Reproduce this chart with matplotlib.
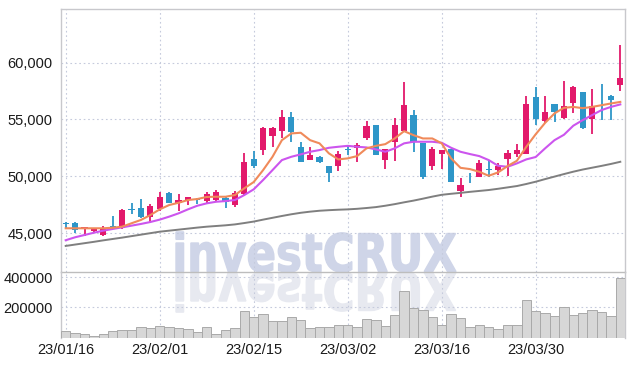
import numpy as np
import matplotlib
matplotlib.use("Agg")
import matplotlib.pyplot as plt
from matplotlib.textpath import TextPath
from matplotlib.patches import PathPatch
from matplotlib.font_manager import FontProperties
from matplotlib.transforms import Affine2D

plt.rcParams['font.family'] = ['Liberation Sans Narrow', 'Liberation Sans', 'DejaVu Sans']

# daily candles (index 0 = 23/01/16)
opens = [45850, 45930, 45400, 45230, 44880, 45640, 45440, 47100, 47190, 46400,
         47100, 48560, 47630, 47920, 47950, 47860, 47920, 48120, 47480, 48420,
         51490, 52330, 53560, 54000, 55180, 52570, 51430, 51720, 50900, 50880,
         52330, 52510, 53330, 54500, 51460, 52980, 54000, 55380, 52900, 50900,
         51930, 52370, 48710, 49500, 49970, 50600, 50550, 51490, 51960, 51980,
         56960, 54850, 56320, 55090, 56460, 57370, 55000, 56700, 57040, 58010]
highs = [46000, 45950, 45580, 45460, 45640, 46520, 47100, 47680, 47980, 47570,
         48600, 48600, 48420, 48210, 48120, 48650, 48800, 48150, 48740, 52070,
         52220, 54300, 54300, 55820, 55610, 53040, 52570, 51800, 50950, 52250,
         52660, 52950, 54880, 54500, 52400, 55090, 58300, 55820, 52950, 52600,
         52350, 52400, 49820, 50260, 51430, 51430, 51140, 52310, 52830, 57070,
         57810, 57070, 56350, 58390, 57950, 57400, 57660, 58070, 57190, 61580]
lows = [45450, 45050, 44800, 45000, 44760, 45400, 45400, 46690, 46350, 45930,
        46980, 47650, 46980, 47460, 47540, 47630, 47860, 47200, 47280, 48400,
        50700, 51840, 52600, 53330, 53030, 51250, 51400, 51200, 49470, 50470,
        51870, 51280, 53180, 51850, 50610, 51340, 53950, 52160, 49740, 50550,
        50610, 49500, 48210, 49390, 49910, 49970, 50110, 50030, 51720, 51950,
        54500, 54650, 54740, 55050, 55530, 54200, 53680, 54940, 54940, 57480]
closes = [45800, 45290, 45550, 45350, 45380, 45450, 47040, 47050, 46400, 47400,
          48200, 47690, 47920, 48180, 47920, 48450, 48620, 47770, 48560, 51250,
          50930, 54240, 54240, 55180, 53910, 51280, 51870, 51280, 50260, 51960,
          52300, 52750, 54410, 51870, 52370, 54500, 56250, 53030, 49910, 52370,
          52310, 49530, 49240, 49470, 51190, 50550, 50900, 52070, 52310, 56340,
          55030, 55610, 55670, 56170, 57830, 54260, 56170, 56670, 56750, 58650]
volumes = [40000, 33000, 20000, 13000, 26000, 42000, 53000, 48000, 73000, 62000,
           79000, 73000, 62000, 55000, 35000, 73000, 26000, 53000, 60000, 179000,
           139000, 159000, 108000, 108000, 139000, 119000, 66000, 73000, 73000, 86000,
           80000, 67000, 120000, 114000, 74000, 147000, 312000, 193000, 180000, 134000,
           81000, 154000, 127000, 67000, 81000, 67000, 54000, 81000, 81000, 246000,
           173000, 160000, 140000, 200000, 147000, 160000, 180000, 167000, 140000, 392000]

# moving averages
ma_short = [45440, 45440, 45440, 45440, 45440, 45490, 45580, 45880, 46170, 46600,
            47100, 47480, 47680, 47920, 48010, 48190, 48210, 48210, 48360, 48950,
            49500, 50550, 51720, 53180, 53770, 53830, 53180, 52900, 52020, 51490,
            51580, 51780, 52460, 52680, 52830, 53330, 53970, 53620, 53330, 53330,
            52900, 51580, 50750, 50640, 50400, 50050, 50350, 50900, 51370, 52600,
            53700, 54700, 55530, 56020, 56100, 55990, 56100, 56250, 56400, 56540]
ma_mid = [44390, 44650, 44850, 45050, 45230, 45380, 45520, 45670, 45820, 45990,
          46200, 46460, 46750, 47100, 47420, 47630, 47770, 47830, 47920, 48360,
          48860, 49680, 50550, 51430, 51720, 51930, 52160, 52310, 52510, 52600,
          52680, 52600, 52540, 52370, 52160, 52460, 52900, 53040, 53040, 53040,
          52950, 52510, 52160, 51960, 51780, 51430, 50930, 50840, 51140, 51490,
          51700, 52460, 53180, 53650, 54450, 54940, 55380, 55820, 56100, 56320]
ma_long = [43890, 44010, 44130, 44250, 44380, 44500, 44620, 44750, 44880, 45010,
           45140, 45230, 45320, 45410, 45500, 45580, 45640, 45700, 45780, 45900,
           46030, 46200, 46360, 46520, 46670, 46800, 46900, 46980, 47030, 47070,
           47100, 47150, 47220, 47300, 47420, 47560, 47720, 47870, 48040, 48220,
           48380, 48470, 48550, 48640, 48720, 48800, 48910, 49030, 49150, 49330,
           49530, 49760, 49980, 50200, 50410, 50600, 50760, 50920, 51090, 51280]

tick_idx = [0, 10, 20, 30, 40, 50]
tick_labels = ['23/01/16', '23/02/01', '23/02/15', '23/03/02', '23/03/16', '23/03/30']
price_ticks = [45000, 50000, 55000, 60000]
vol_ticks = [200000, 400000]

UP = '#e2196b'
DOWN = '#2e96c8'
GRID = '#c5cadc'
SPINE = '#c8c8cc'

fig = plt.figure(figsize=(6.35, 3.66), dpi=100, facecolor='white')
ax = fig.add_axes([61/635, 1-272/366, 564/635, 263/366])
axv = fig.add_axes([61/635, 1-337.5/366, 564/635, 65.5/366], sharex=ax)
for a in (ax, axv):
    a.set_facecolor('none')

# watermark with reflection, behind the axes
fp = FontProperties(family='DejaVu Sans', weight='bold')
tp = TextPath((0, 0), 'investCRUX', size=100, prop=fp)
cap = TextPath((0, 0), 'X', size=100, prop=fp).get_extents().height
bb = tp.get_extents()
sx = (456 - 176) / bb.width
sy = 38 / cap
tr = Affine2D().translate(-bb.x0, 0).scale(sx, sy).translate(176, 94.5)
trr = Affine2D().translate(-bb.x0, 0).scale(sx, -sy).translate(176, 93.5)
fig.add_artist(PathPatch(tp, transform=trr, facecolor='#e7e9f0', edgecolor='#e7e9f0',
                         lw=1.0, zorder=-2))
fig.add_artist(PathPatch(tp, transform=tr, facecolor='#cfd5e8', edgecolor='#cfd5e8',
                         lw=1.0, zorder=-2))

x = np.arange(len(opens))
o = np.array(opens); c = np.array(closes)
colors = [UP if cc > oo else DOWN for oo, cc in zip(o, c)]
ax.vlines(x, lows, highs, colors=colors, lw=1.3, zorder=3)
body = np.maximum(np.abs(c - o), 70)
ax.bar(x, body, bottom=np.minimum(o, c), width=0.68, color=colors, zorder=4)

ax.plot(x, ma_long, color='#7f7f7f', lw=1.4, zorder=5)
ax.plot(x, ma_mid, color='#cc55ee', lw=1.5, zorder=5)
ax.plot(x, ma_short, color='#f08a5a', lw=1.5, zorder=5)

ax.set_xlim(-0.5, 59.5)
ax.set_ylim(41600, 64700)
ax.set_yticks(price_ticks)
ax.set_yticklabels([f'{v:,}' for v in price_ticks])
ax.grid(True, color=GRID, ls=(0, (1.5, 2.5)), lw=0.8)
ax.tick_params(axis='x', which='both', length=0, labelbottom=False)
ax.tick_params(axis='y', length=0, pad=6, labelsize=10.5, labelcolor='#1a1a1a')

axv.bar(x, volumes, width=1.0, color='#d7d7d7', edgecolor='#a9a9a9', lw=0.7, zorder=3)
axv.set_ylim(0, 435000)
axv.set_yticks(vol_ticks)
axv.set_yticklabels([str(v) for v in vol_ticks])
axv.set_xticks(tick_idx)
axv.set_xticklabels(tick_labels)
axv.grid(True, color=GRID, ls=(0, (1.5, 2.5)), lw=0.8)
axv.tick_params(length=0, labelsize=10.5, labelcolor='#1a1a1a')
axv.tick_params(axis='y', pad=6)
axv.tick_params(axis='x', pad=4)

for a in (ax, axv):
    for s in a.spines.values():
        s.set_color(SPINE)
        s.set_linewidth(1.0)
axv.spines['bottom'].set_visible(False)
axv.spines['top'].set_visible(False)
ax.spines['bottom'].set_color('#bdbdbd')

fig.savefig('out.png', dpi=100)
